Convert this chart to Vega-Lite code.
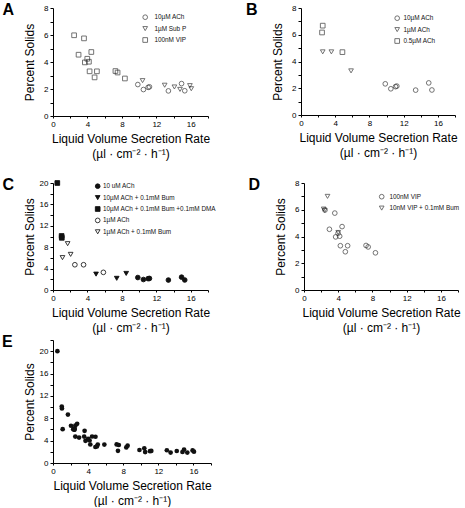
{
"$schema": "https://vega.github.io/schema/vega-lite/v6.json",
"background": "white",
"padding": {"left": 2, "top": 2, "right": 0, "bottom": 0},
"resolve": {"scale": {"shape": "independent", "fill": "independent", "stroke": "independent", "color": "independent", "x": "independent", "y": "independent"}, "legend": {"shape": "independent", "fill": "independent", "stroke": "independent", "color": "independent"}},
"data": {"values": [
{"s":"10µM ACh","x":9.85,"y":2.33},
{"s":"10µM ACh","x":10.5,"y":1.96},
{"s":"10µM ACh","x":11.05,"y":2.12},
{"s":"10µM ACh","x":11.2,"y":2.16},
{"s":"10µM ACh","x":13.4,"y":1.86},
{"s":"10µM ACh","x":14.93,"y":2.4},
{"s":"10µM ACh","x":15.3,"y":1.87},
{"s":"1µM Sub P","x":10.4,"y":2.62},
{"s":"1µM Sub P","x":12.97,"y":2.28},
{"s":"1µM Sub P","x":14.1,"y":2.15},
{"s":"1µM Sub P","x":14.75,"y":1.97},
{"s":"1µM Sub P","x":15.9,"y":2.25},
{"s":"1µM Sub P","x":16.06,"y":2.02},
{"s":"100nM VIP","x":2.45,"y":5.98},
{"s":"100nM VIP","x":3.6,"y":5.75},
{"s":"100nM VIP","x":2.97,"y":4.54},
{"s":"100nM VIP","x":4.45,"y":4.74},
{"s":"100nM VIP","x":3.98,"y":4.24},
{"s":"100nM VIP","x":3.7,"y":3.97},
{"s":"100nM VIP","x":4.17,"y":4.02},
{"s":"100nM VIP","x":4.25,"y":3.31},
{"s":"100nM VIP","x":5.1,"y":3.31},
{"s":"100nM VIP","x":4.83,"y":2.86},
{"s":"100nM VIP","x":7.25,"y":3.33},
{"s":"100nM VIP","x":7.5,"y":3.22},
{"s":"100nM VIP","x":8.35,"y":2.78},
{"s":"1µM ACh","x":2.54,"y":4.72},
{"s":"1µM ACh","x":3.55,"y":4.72},
{"s":"1µM ACh","x":5.85,"y":3.3},
{"s":"0.5µM ACh","x":2.54,"y":6.68},
{"s":"0.5µM ACh","x":2.46,"y":6.17},
{"s":"0.5µM ACh","x":4.84,"y":4.7},
{"s":"10µM ACh + 0.1mM Bum","x":5.0,"y":2.97},
{"s":"10µM ACh + 0.1mM Bum","x":7.4,"y":2.18},
{"s":"10µM ACh + 0.1mM Bum","x":8.5,"y":3.1},
{"s":"10µM ACh + 0.1mM Bum +0.1mM DMA","x":0.5,"y":20},
{"s":"10µM ACh + 0.1mM Bum +0.1mM DMA","x":1.0,"y":10.1},
{"s":"10µM ACh + 0.1mM Bum +0.1mM DMA","x":1.02,"y":9.75},
{"s":"1µM ACh + 0.1mM Bum","x":1.1,"y":6.05},
{"s":"1µM ACh + 0.1mM Bum","x":1.7,"y":8.66},
{"s":"1µM ACh + 0.1mM Bum","x":2.05,"y":6.66},
{"s":"10nM VIP + 0.1mM Bum","x":2.75,"y":7.0},
{"s":"10nM VIP + 0.1mM Bum","x":2.3,"y":6.05},
{"s":"10nM VIP + 0.1mM Bum","x":2.42,"y":5.95},
{"s":"10nM VIP + 0.1mM Bum","x":4.0,"y":4.3}
]},
"config": {
  "view": {"stroke": null},
  "font": "Liberation Sans",
  "axis": {"grid": false, "domainColor": "#000", "domainWidth": 1, "tickColor": "#000", "tickWidth": 1, "tickSize": 3, "labelFontSize": 8, "labelFont": "Liberation Sans", "labelColor": "#000", "labelPadding": 2, "labelFlush": false, "labelOverlap": false, "titleFont": "Liberation Sans", "titleFontSize": 12, "titleFontWeight": "normal", "titleColor": "#000"},
  "axisX": {"tickSize": 2, "titlePadding": 5.5, "titleLineHeight": 15},
  "axisY": {"minExtent": 14, "maxExtent": 14, "titlePadding": 2.5},
  "legend": {"orient": "none", "padding": 0, "labelFontSize": 6.4, "labelFont": "Liberation Sans", "labelColor": "#111", "symbolSize": 22, "rowPadding": 2.4, "symbolStrokeWidth": 0.9, "symbolStrokeColor": "#222", "labelLimit": 300},
  "title": {"anchor": "start", "frame": "group", "baseline": "top", "offset": -14, "fontSize": 16, "fontWeight": "bold", "font": "Liberation Sans", "color": "#000"}
},
"vconcat": [
{"vconcat": [
{"hconcat": [
{
 "width": 155, "height": 108,
 "title": {"text": "A", "dx": -50.5},
 "transform": [{"filter": {"field": "s", "oneOf": ["10µM ACh", "1µM Sub P", "100nM VIP"]}}],
 "mark": {"type": "point", "filled": false, "color": "#222", "strokeWidth": 0.9, "size": 22},
 "encoding": {
  "x": {"field": "x", "type": "quantitative", "scale": {"domain": [0, 18], "nice": false}, "axis": {"title": ["Liquid Volume Secretion Rate", "(µl · cm⁻² · h⁻¹)"], "values": [0,2,4,6,8,10,12,14,16,18], "labelExpr": "datum.value % 4 === 0 && datum.value <= 16 ? datum.label : ''"}},
  "y": {"field": "y", "type": "quantitative", "scale": {"domain": [0, 8], "nice": false}, "axis": {"title": "Percent Solids", "values": [0,1,2,3,4,5,6,7,8], "labelExpr": "datum.value % 2 === 0 ? datum.label : ''"}},
  "shape": {"field": "s", "type": "nominal", "scale": {"domain": ["10µM ACh", "1µM Sub P", "100nM VIP"], "range": ["circle", "triangle-down", "square"]}, "legend": {"title": null, "legendX": 89, "legendY": 6, "labelOffset": 6}}
 }
},
{
 "width": 154, "height": 107,
 "title": {"text": "B", "dx": -55},
 "transform": [{"filter": {"field": "s", "oneOf": ["10µM ACh", "1µM ACh", "0.5µM ACh"]}}],
 "mark": {"type": "point", "filled": false, "color": "#222", "strokeWidth": 0.9, "size": 22},
 "encoding": {
  "x": {"field": "x", "type": "quantitative", "scale": {"domain": [0, 18], "nice": false}, "axis": {"title": ["Liquid Volume Secretion Rate", "(µl · cm⁻² · h⁻¹)"], "values": [0,2,4,6,8,10,12,14,16,18], "labelExpr": "datum.value % 4 === 0 && datum.value <= 16 ? datum.label : ''"}},
  "y": {"field": "y", "type": "quantitative", "scale": {"domain": [0, 8], "nice": false}, "axis": {"title": "Percent Solids", "values": [0,1,2,3,4,5,6,7,8], "labelExpr": "datum.value % 2 === 0 ? datum.label : ''"}},
  "shape": {"field": "s", "type": "nominal", "scale": {"domain": ["10µM ACh", "1µM ACh", "0.5µM ACh"], "range": ["circle", "triangle-down", "square"]}, "legend": {"title": null, "legendX": 93, "legendY": 7, "labelOffset": 3}}
 }
}
], "spacing": 36, "resolve": {"scale": {"shape": "independent", "fill": "independent", "stroke": "independent", "x": "independent", "y": "independent"}, "legend": {"shape": "independent", "fill": "independent", "stroke": "independent"}}},
{"hconcat": [
{
 "width": 155, "height": 107,
 "title": {"text": "C", "dx": -50.5},
 "transform": [{"filter": {"field": "s", "oneOf": ["10µM ACh", "10µM ACh + 0.1mM Bum", "10µM ACh + 0.1mM Bum +0.1mM DMA", "1µM ACh", "1µM ACh + 0.1mM Bum"]}}],
 "mark": {"type": "point", "filled": true, "strokeWidth": 0.9, "size": 22, "opacity": 1},
 "encoding": {
  "x": {"field": "x", "type": "quantitative", "scale": {"domain": [0, 18], "nice": false}, "axis": {"title": ["Liquid Volume Secretion Rate", "(µl · cm⁻² · h⁻¹)"], "values": [0,2,4,6,8,10,12,14,16,18], "labelExpr": "datum.value % 4 === 0 && datum.value <= 16 ? datum.label : ''"}},
  "y": {"field": "y", "type": "quantitative", "scale": {"domain": [0, 20], "nice": false}, "axis": {"title": "Percent Solids", "values": [0,2,4,6,8,10,12,14,16,18,20], "labelExpr": "datum.value % 4 === 0 ? datum.label : ''"}},
  "shape": {"field": "s", "type": "nominal", "scale": {"domain": ["10µM ACh", "10µM ACh + 0.1mM Bum", "10µM ACh + 0.1mM Bum +0.1mM DMA", "1µM ACh", "1µM ACh + 0.1mM Bum"], "range": ["circle", "triangle-down", "square", "circle", "triangle-down"]}, "legend": {"title": null, "legendX": 41.5, "legendY": 0, "labelOffset": 2, "labelExpr": "datum.label === '10µM ACh' ? '10 uM ACh' : datum.label"}},
  "fill": {"field": "s", "type": "nominal", "scale": {"domain": ["10µM ACh", "10µM ACh + 0.1mM Bum", "10µM ACh + 0.1mM Bum +0.1mM DMA", "1µM ACh", "1µM ACh + 0.1mM Bum"], "range": ["#111", "#111", "#111", "transparent", "transparent"]}, "legend": {"title": null, "legendX": 41.5, "legendY": 0, "labelOffset": 2, "labelExpr": "datum.label === '10µM ACh' ? '10 uM ACh' : datum.label"}},
  "stroke": {"field": "s", "type": "nominal", "scale": {"domain": ["10µM ACh", "10µM ACh + 0.1mM Bum", "10µM ACh + 0.1mM Bum +0.1mM DMA", "1µM ACh", "1µM ACh + 0.1mM Bum"], "range": ["#111", "#111", "#111", "#222", "#222"]}, "legend": {"title": null, "legendX": 41.5, "legendY": 0, "labelOffset": 2, "labelExpr": "datum.label === '10µM ACh' ? '10 uM ACh' : datum.label"}}
 }
},
{
 "width": 154, "height": 107,
 "title": {"text": "D", "dx": -55.5},
 "transform": [{"filter": {"field": "s", "oneOf": ["100nM VIP", "10nM VIP + 0.1mM Bum"]}}],
 "mark": {"type": "point", "filled": false, "color": "#222", "strokeWidth": 0.9, "size": 22},
 "encoding": {
  "x": {"field": "x", "type": "quantitative", "scale": {"domain": [0, 18], "nice": false}, "axis": {"title": ["Liquid Volume Secretion Rate", "(µl · cm⁻² · h⁻¹)"], "values": [0,2,4,6,8,10,12,14,16,18], "labelExpr": "datum.value % 4 === 0 && datum.value <= 16 ? datum.label : ''"}},
  "y": {"field": "y", "type": "quantitative", "scale": {"domain": [0, 8], "nice": false}, "axis": {"title": "Percent Solids", "values": [0,1,2,3,4,5,6,7,8], "labelExpr": "datum.value % 2 === 0 ? datum.label : ''"}},
  "shape": {"field": "s", "type": "nominal", "scale": {"domain": ["100nM VIP", "10nM VIP + 0.1mM Bum"], "range": ["circle", "triangle-down"]}, "legend": {"title": null, "legendX": 74.5, "legendY": 10.5, "labelOffset": 4.5}}
 }
}
], "spacing": 31, "resolve": {"scale": {"shape": "independent", "fill": "independent", "stroke": "independent", "x": "independent", "y": "independent"}, "legend": {"shape": "independent", "fill": "independent", "stroke": "independent"}}}
], "spacing": 16, "resolve": {"scale": {"shape": "independent", "fill": "independent", "stroke": "independent", "x": "independent", "y": "independent"}, "legend": {"shape": "independent", "fill": "independent", "stroke": "independent"}}},
{
 "width": 158, "height": 123,
 "title": {"text": "E", "dx": -51},
 "mark": {"type": "point", "filled": true, "color": "#111", "size": 22, "opacity": 1},
 "encoding": {
  "x": {"field": "x", "type": "quantitative", "scale": {"domain": [0, 18], "nice": false}, "axis": {"title": ["Liquid Volume Secretion Rate", "(µl · cm⁻² · h⁻¹)"], "values": [0,2,4,6,8,10,12,14,16,18], "labelExpr": "datum.value % 4 === 0 && datum.value <= 16 ? datum.label : ''"}},
  "y": {"field": "y", "type": "quantitative", "scale": {"domain": [0, 22], "nice": false}, "axis": {"title": "Percent  Solids", "values": [0,2,4,6,8,10,12,14,16,18,20,22], "labelExpr": "datum.value % 4 === 0 && datum.value <= 20 ? datum.label : ''"}}
 }
}
], "spacing": 0
}
